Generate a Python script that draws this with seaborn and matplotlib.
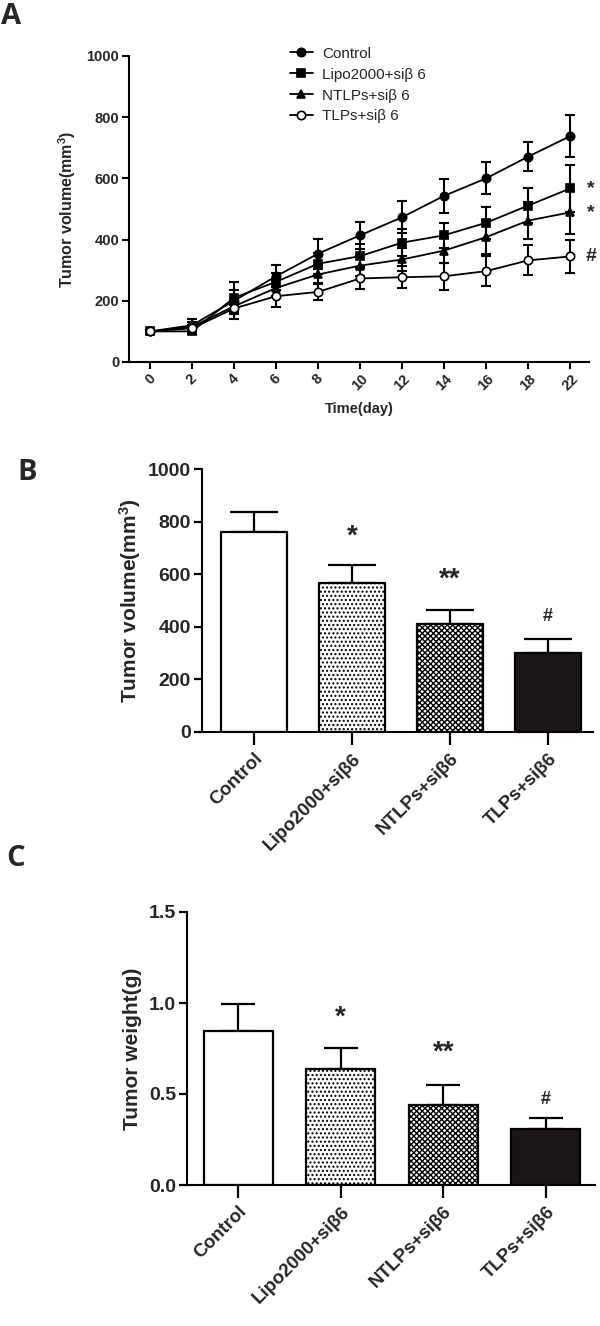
import numpy as np
import pandas as pd
import matplotlib
matplotlib.use("Agg")
import matplotlib.pyplot as plt
import seaborn as sns
from matplotlib.lines import Line2D

# ---------------- data ----------------
days = ['0', '2', '4', '6', '8', '10', '12', '14', '16', '18', '22']
control = [100, 120, 200, 280, 354, 414, 473, 543, 600, 671, 738]
control_err = [6, 22, 60, 36, 49, 44, 52, 56, 52, 48, 69]
lipo = [100, 100, 210, 262, 321, 346, 390, 414, 455, 511, 567]
lipo_err = [5, 10, 25, 28, 35, 40, 45, 40, 52, 56, 77]
ntlp = [100, 115, 182, 242, 286, 315, 335, 364, 408, 462, 489]
ntlp_err = [5, 15, 20, 25, 30, 35, 38, 40, 56, 60, 70]
tlp = [100, 110, 175, 215, 229, 273, 277, 280, 297, 332, 345]
tlp_err = [5, 12, 18, 34, 28, 36, 36, 44, 50, 49, 55]
series_names = ['Control', 'Lipo2000+siβ 6', 'NTLPs+siβ 6', 'TLPs+siβ 6']
a_marks = ['*', '*', '#']
a_mark_vals = [567, 489, 345]

groups = ['Control', 'Lipo2000+siβ6', 'NTLPs+siβ6', 'TLPs+siβ6']
volume = [760, 565, 410, 301]
volume_err = [77, 69, 54, 53]
weight = [0.847, 0.640, 0.439, 0.307]
weight_err = [0.150, 0.114, 0.113, 0.060]
bar_marks = ['', '*', '**', '#']
volume_mark_y = [0, 741, 578, 441]
weight_mark_y = [0, 0.918, 0.725, 0.472]

# ---------------- style ----------------
sns.set_theme(style="ticks")
plt.rcParams['font.family'] = ['Liberation Sans', 'DejaVu Sans']
plt.rcParams['mathtext.fontset'] = 'custom'
plt.rcParams['mathtext.rm'] = 'Liberation Sans:bold'
plt.rcParams['mathtext.it'] = 'Liberation Sans:bold'
plt.rcParams['mathtext.bf'] = 'Liberation Sans:bold'
plt.rcParams['mathtext.default'] = 'rm'
plt.rcParams['hatch.linewidth'] = 1.0
plt.rcParams['axes.linewidth'] = 1.5

W, H = 600, 1326
fig = plt.figure(figsize=(W / 100, H / 100), dpi=100)


def ax_px(left, top, right, bottom):
    return fig.add_axes([left / W, 1 - bottom / H, (right - left) / W, (bottom - top) / H])


def style_axes(ax):
    for s in ['top', 'right']:
        ax.spines[s].set_visible(False)
    ax.spines['left'].set_color('black')
    ax.spines['bottom'].set_color('black')
    ax.set_facecolor('white')


# ---------------- Panel A ----------------
axA = ax_px(129, 56, 589, 362)
style_axes(axA)
x = np.arange(len(days))
markers = ['o', 's', '^', 'o']
mfcs = ['black', 'black', 'black', 'white']
all_vals = [control, lipo, ntlp, tlp]
all_errs = [control_err, lipo_err, ntlp_err, tlp_err]
for name, vals, errs, mk, fc in zip(series_names, all_vals, all_errs, markers, mfcs):
    df = pd.DataFrame({'x': x, 'y': vals})
    sns.lineplot(data=df, x='x', y='y', ax=axA, color='black', lw=1.3,
                 marker=mk, markersize=6, markerfacecolor=fc,
                 markeredgecolor='black', markeredgewidth=1.2, zorder=3)
    axA.errorbar(x, vals, yerr=errs, fmt='none', ecolor='black',
                 elinewidth=1.5, capsize=3.5, capthick=1.5, zorder=2)

axA.set_xlim(-0.5, 10.45)
axA.set_ylim(0, 1000)
axA.set_yticks([0, 200, 400, 600, 800, 1000])
axA.set_yticklabels(['0', '200', '400', '600', '800', '1000'], fontsize=10.5, fontweight='bold')
axA.set_xticks(x)
axA.set_xticklabels(days, rotation=45, ha='center', fontsize=10.5, fontweight='bold')
axA.tick_params(axis='both', width=1.5, length=5, color='black', pad=2)
axA.set_xlabel('Time(day)', fontsize=10.5, fontweight='bold')
axA.xaxis.set_label_coords(0.5, -0.13)
axA.set_ylabel('Tumor volume(mm$^3$)', fontsize=11.5, fontweight='bold')
axA.yaxis.set_label_coords(-0.11, 0.5)
handles = [Line2D([0], [0], color='black', lw=1.3, marker=m, markersize=6,
                  markerfacecolor=fc, markeredgecolor='black', markeredgewidth=1.2)
           for m, fc in zip(markers, mfcs)]
axA.legend(handles, series_names, loc='upper left', bbox_to_anchor=(0.35, 1.03),
           frameon=False, fontsize=11, handlelength=1.5, handletextpad=0.6,
           labelspacing=0.45, borderpad=0, borderaxespad=0)
for mk, v in zip(a_marks, a_mark_vals):
    axA.text(10.5, v, mk, fontsize=14, fontweight='bold', ha='center', va='center',
             clip_on=False)


# ---------------- Bar panels ----------------
fills = ['white', 'white', 'white', '#1c1414']
hatches = ['', '....', 'xxxxxx', '']


def bar_panel(ax, vals, errs, mark_y, ylim, yticks, ytl, ylabel, ylab_x, cap):
    style_axes(ax)
    df = pd.DataFrame({'g': groups, 'v': vals})
    sns.barplot(data=df, x='g', y='v', hue='g', palette=fills, legend=False,
                width=0.67, edgecolor='black', linewidth=1.6, errorbar=None,
                ax=ax, zorder=2)
    for p, h in zip(ax.patches, hatches):
        p.set_hatch(h)
    xpos = np.arange(len(groups))
    ax.errorbar(xpos, vals, yerr=[np.zeros(len(errs)), errs], fmt='none',
                ecolor='black', elinewidth=1.6, capsize=cap, capthick=1.6, zorder=1)
    for xp, m, yv in zip(xpos, bar_marks, mark_y):
        if m:
            fs = 13 if m == '#' else 20
            ax.text(xp, yv, m, fontsize=fs, fontweight='bold', ha='center', va='center')
    ax.set_ylim(*ylim)
    ax.set_yticks(yticks)
    ax.set_yticklabels(ytl, fontsize=14, fontweight='bold')
    ax.set_xticks(xpos)
    ax.set_xticklabels(groups, rotation=45, ha='right', rotation_mode='anchor',
                       fontsize=13.5, fontweight='bold')
    ax.tick_params(axis='y', width=1.6, length=6, color='black', pad=2)
    ax.tick_params(axis='x', width=1.6, length=9, color='black', pad=4)
    ax.set_xlabel('')
    ax.set_ylabel(ylabel, fontsize=15, fontweight='bold')
    ax.yaxis.set_label_coords(ylab_x, 0.5)


axB = ax_px(202, 469, 593, 732)
bar_panel(axB, volume, volume_err, volume_mark_y, (0, 1000),
          [0, 200, 400, 600, 800, 1000], ['0', '200', '400', '600', '800', '1000'],
          'Tumor volume(mm$^3$)', -0.151, 17)
axB.set_xlim(-0.53, 3.46)

axC = ax_px(187, 912, 595, 1185)
bar_panel(axC, weight, weight_err, weight_mark_y, (0, 1.5),
          [0, 0.5, 1.0, 1.5], ['0.0', '0.5', '1.0', '1.5'],
          'Tumor weight(g)', -0.11, 12)
axC.set_xlim(-0.5, 3.48)

# ---------------- panel letters ----------------
for letter, px, py in [('A', 11, 16), ('B', 27, 472), ('C', 16, 858)]:
    fig.text(px / W, 1 - py / H, letter, fontsize=21, fontweight='bold',
             family=['Open Sans', 'DejaVu Sans'], ha='center', va='center')

fig.savefig('out.png', dpi=100, facecolor='white')
